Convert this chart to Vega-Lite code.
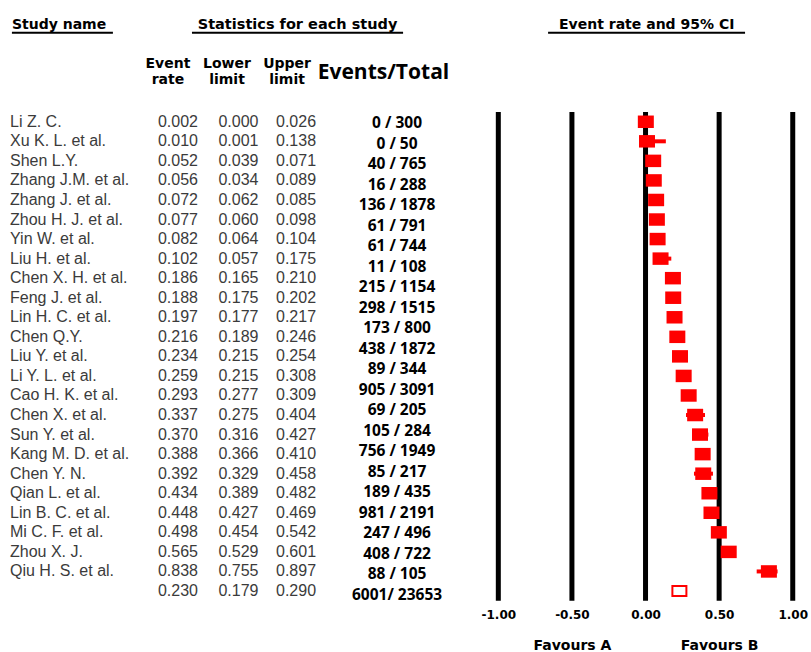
{
  "$schema": "https://vega.github.io/schema/vega-lite/v6.json",
  "width": 811,
  "height": 615,
  "padding": 0,
  "background": "white",
  "config": {"view": {"stroke": null}},
  "datasets": {
    "studies": [
      {"study": "Li Z. C.", "type": "study", "rate": 0.002, "lower": 0.000, "upper": 0.026},
      {"study": "Xu K. L. et al.", "type": "study", "rate": 0.010, "lower": 0.001, "upper": 0.138},
      {"study": "Shen L.Y.", "type": "study", "rate": 0.052, "lower": 0.039, "upper": 0.071},
      {"study": "Zhang J.M. et al.", "type": "study", "rate": 0.056, "lower": 0.034, "upper": 0.089},
      {"study": "Zhang J. et al.", "type": "study", "rate": 0.072, "lower": 0.062, "upper": 0.085},
      {"study": "Zhou H. J. et al.", "type": "study", "rate": 0.077, "lower": 0.060, "upper": 0.098},
      {"study": "Yin W. et al.", "type": "study", "rate": 0.082, "lower": 0.064, "upper": 0.104},
      {"study": "Liu H. et al.", "type": "study", "rate": 0.102, "lower": 0.057, "upper": 0.175},
      {"study": "Chen X. H. et al.", "type": "study", "rate": 0.186, "lower": 0.165, "upper": 0.210},
      {"study": "Feng J. et al.", "type": "study", "rate": 0.188, "lower": 0.175, "upper": 0.202},
      {"study": "Lin H. C. et al.", "type": "study", "rate": 0.197, "lower": 0.177, "upper": 0.217},
      {"study": "Chen Q.Y.", "type": "study", "rate": 0.216, "lower": 0.189, "upper": 0.246},
      {"study": "Liu Y. et al.", "type": "study", "rate": 0.234, "lower": 0.215, "upper": 0.254},
      {"study": "Li Y. L. et al.", "type": "study", "rate": 0.259, "lower": 0.215, "upper": 0.308},
      {"study": "Cao H. K. et al.", "type": "study", "rate": 0.293, "lower": 0.277, "upper": 0.309},
      {"study": "Chen X. et al.", "type": "study", "rate": 0.337, "lower": 0.275, "upper": 0.404},
      {"study": "Sun Y. et al.", "type": "study", "rate": 0.370, "lower": 0.316, "upper": 0.427},
      {"study": "Kang M. D. et al.", "type": "study", "rate": 0.388, "lower": 0.366, "upper": 0.410},
      {"study": "Chen Y. N.", "type": "study", "rate": 0.392, "lower": 0.329, "upper": 0.458},
      {"study": "Qian L. et al.", "type": "study", "rate": 0.434, "lower": 0.389, "upper": 0.482},
      {"study": "Lin B. C. et al.", "type": "study", "rate": 0.448, "lower": 0.427, "upper": 0.469},
      {"study": "Mi C. F. et al.", "type": "study", "rate": 0.498, "lower": 0.454, "upper": 0.542},
      {"study": "Zhou X. J.", "type": "study", "rate": 0.565, "lower": 0.529, "upper": 0.601},
      {"study": "Qiu  H. S. et al.", "type": "study", "rate": 0.838, "lower": 0.755, "upper": 0.897},
      {"study": "Overall", "type": "summary", "rate": 0.230, "lower": 0.179, "upper": 0.290}
    ],
    "ticks": [{"v": -1}, {"v": -0.5}, {"v": 0}, {"v": 0.5}, {"v": 1}],
    "events": [
      {"n": "0 / 300"}, {"n": "0 / 50"}, {"n": "40 / 765"}, {"n": "16 / 288"},
      {"n": "136 / 1878"}, {"n": "61 / 791"}, {"n": "61 / 744"}, {"n": "11 / 108"},
      {"n": "215 / 1154"}, {"n": "298 / 1515"}, {"n": "173 / 800"}, {"n": "438 / 1872"},
      {"n": "89 / 344"}, {"n": "905 / 3091"}, {"n": "69 / 205"}, {"n": "105 / 284"},
      {"n": "756 / 1949"}, {"n": "85 / 217"}, {"n": "189 / 435"}, {"n": "981 / 2191"},
      {"n": "247 / 496"}, {"n": "408 / 722"}, {"n": "88 / 105"}, {"n": "6001/ 23653"}
    ]
  },
  "layer": [
    {
      "layer": [
        {
          "data": {"name": "ticks"},
          "mark": {"type": "rule", "color": "#000000", "strokeWidth": 5},
          "encoding": {
            "x": {
              "field": "v", "type": "quantitative",
              "scale": {"domain": [-4.385, 1.124], "nice": false, "zero": false},
              "axis": {
                "orient": "bottom", "values": [-1, -0.5, 0, 0.5, 1],
                "labelExpr": "(datum.value < 0 ? '-' : '') + format(abs(datum.value), '.2f')",
                "domain": false, "ticks": false, "tickSize": 0, "grid": false, "title": null,
                "labelFont": "DejaVu Sans", "labelFontWeight": "bold", "labelFontSize": 12,
                "labelColor": "#000000", "labelPadding": 0, "offset": -6,
                "labelOverlap": false, "labelFlush": false, "labelBound": false
              }
            },
            "y": {
              "datum": "Li Z. C.", "type": "nominal", "bandPosition": 0,
              "scale": {
                "type": "band", "paddingInner": 0, "paddingOuter": 0.728,
                "domain": ["t5", "t4", "t3", "t2", "t1",
                  "Li Z. C.", "Xu K. L. et al.", "Shen L.Y.", "Zhang J.M. et al.", "Zhang J. et al.",
                  "Zhou H. J. et al.", "Yin W. et al.", "Liu H. et al.", "Chen X. H. et al.", "Feng J. et al.",
                  "Lin H. C. et al.", "Chen Q.Y.", "Liu Y. et al.", "Li Y. L. et al.", "Cao H. K. et al.",
                  "Chen X. et al.", "Sun Y. et al.", "Kang M. D. et al.", "Chen Y. N.", "Qian L. et al.",
                  "Lin B. C. et al.", "Mi C. F. et al.", "Zhou X. J.", "Qiu  H. S. et al.", "Overall"]
              },
              "axis": null
            },
            "y2": {"datum": "Overall", "bandPosition": 1}
          }
        },
        {
          "data": {"name": "studies"},
          "transform": [{"filter": "datum.type == 'study'"}],
          "mark": {"type": "rule", "color": "#ff0000", "strokeWidth": 4},
          "encoding": {
            "x": {"field": "lower", "type": "quantitative", "axis": null},
            "x2": {"field": "upper"},
            "y": {"field": "study", "type": "nominal", "axis": null}
          }
        },
        {
          "data": {"name": "studies"},
          "transform": [{"filter": "datum.type == 'study'"}],
          "mark": {"type": "point", "shape": "M-1,-0.78H1V0.78H-1Z", "size": 256, "filled": true, "color": "#ff0000", "opacity": 1},
          "encoding": {
            "x": {"field": "rate", "type": "quantitative", "axis": null},
            "y": {"field": "study", "type": "nominal", "axis": null}
          }
        },
        {
          "data": {"name": "studies"},
          "transform": [{"filter": "datum.type == 'summary'"}],
          "mark": {"type": "point", "shape": "M-1,-0.7H1V0.7H-1Z", "size": 196, "filled": false, "fill": "#ffffff", "stroke": "#ff0000", "strokeWidth": 2, "opacity": 1},
          "encoding": {
            "x": {
              "field": "rate", "type": "quantitative",
              "axis": {
                "orient": "bottom", "values": [-0.5, 0.5],
                "labelExpr": "datum.value < 0 ? 'Favours A' : 'Favours B'",
                "domain": false, "ticks": false, "tickSize": 0, "grid": false, "title": null,
                "labelFont": "DejaVu Sans", "labelFontWeight": "bold", "labelFontSize": 14,
                "labelColor": "#000000", "labelPadding": 0, "offset": 23,
                "labelOverlap": false, "labelFlush": false, "labelBound": false
              }
            },
            "y": {"field": "study", "type": "nominal", "axis": null}
          }
        },
        {
          "data": {"name": "studies"},
          "transform": [{"filter": "datum.type == 'study'"}],
          "mark": {"type": "text", "align": "left", "baseline": "middle", "font": "Liberation Sans", "fontSize": 16, "color": "#3b3b3b"},
          "encoding": {
            "x": {"datum": -4.317, "type": "quantitative", "axis": null},
            "y": {"field": "study", "type": "nominal", "axis": null},
            "text": {"field": "study"}
          }
        },
        {
          "data": {"name": "studies"},
          "mark": {"type": "text", "align": "center", "baseline": "middle", "font": "Liberation Sans", "fontSize": 16, "color": "#3b3b3b"},
          "encoding": {
            "x": {"datum": -3.176, "type": "quantitative", "axis": null},
            "y": {"field": "study", "type": "nominal", "axis": null},
            "text": {"field": "rate", "format": ".3f"}
          }
        },
        {
          "data": {"name": "studies"},
          "mark": {"type": "text", "align": "center", "baseline": "middle", "font": "Liberation Sans", "fontSize": 16, "color": "#3b3b3b"},
          "encoding": {
            "x": {"datum": -2.765, "type": "quantitative", "axis": null},
            "y": {"field": "study", "type": "nominal", "axis": null},
            "text": {"field": "lower", "format": ".3f"}
          }
        },
        {
          "data": {"name": "studies"},
          "mark": {"type": "text", "align": "center", "baseline": "middle", "font": "Liberation Sans", "fontSize": 16, "color": "#3b3b3b"},
          "encoding": {
            "x": {"datum": -2.374, "type": "quantitative", "axis": null},
            "y": {"field": "study", "type": "nominal", "axis": null},
            "text": {"field": "upper", "format": ".3f"}
          }
        },
        {
          "data": {"values": [{"label": "Study name"}]},
          "mark": {"type": "text", "align": "left", "baseline": "middle", "font": "DejaVu Sans", "fontWeight": "bold", "fontSize": 14, "color": "#000000", "dy": 1},
          "encoding": {
            "x": {"datum": -4.304, "type": "quantitative", "axis": null},
            "y": {"datum": "t5", "type": "nominal", "axis": null},
            "text": {"field": "label"}
          }
        },
        {
          "data": {"values": [{"label": "Statistics for each study"}]},
          "mark": {"type": "text", "align": "center", "baseline": "middle", "font": "DejaVu Sans", "fontWeight": "bold", "fontSize": 14.5, "color": "#000000", "dy": 1},
          "encoding": {
            "x": {"datum": -2.364, "type": "quantitative", "axis": null},
            "y": {"datum": "t5", "type": "nominal", "axis": null},
            "text": {"field": "label"}
          }
        },
        {
          "data": {"values": [{"label": "Event rate and 95% CI"}]},
          "mark": {"type": "text", "align": "center", "baseline": "middle", "font": "DejaVu Sans", "fontWeight": "bold", "fontSize": 14, "color": "#000000", "dy": 1},
          "encoding": {
            "x": {"datum": 0.008, "type": "quantitative", "axis": null},
            "y": {"datum": "t5", "type": "nominal", "axis": null},
            "text": {"field": "label"}
          }
        },
        {
          "data": {"values": [{"from": -4.304, "to": -3.618}, {"from": -3.081, "to": -1.647}, {"from": -0.662, "to": 0.676}]},
          "mark": {"type": "rule", "color": "#000000", "strokeWidth": 2},
          "encoding": {
            "x": {"field": "from", "type": "quantitative", "axis": null},
            "x2": {"field": "to"},
            "y": {"datum": "t5", "type": "nominal", "bandPosition": 0.95, "axis": null}
          }
        },
        {
          "data": {"values": [{"label": "Event\nrate"}]},
          "mark": {"type": "text", "align": "center", "baseline": "middle", "lineBreak": "\n", "lineHeight": 16, "font": "DejaVu Sans", "fontWeight": "bold", "fontSize": 14, "color": "#000000", "dy": 1},
          "encoding": {
            "x": {"datum": -3.244, "type": "quantitative", "axis": null},
            "y": {"datum": "t3", "type": "nominal", "axis": null},
            "text": {"field": "label"}
          }
        },
        {
          "data": {"values": [{"label": "Lower\nlimit"}]},
          "mark": {"type": "text", "align": "center", "baseline": "middle", "lineBreak": "\n", "lineHeight": 16, "font": "DejaVu Sans", "fontWeight": "bold", "fontSize": 14, "color": "#000000", "dy": 1},
          "encoding": {
            "x": {"datum": -2.843, "type": "quantitative", "axis": null},
            "y": {"datum": "t3", "type": "nominal", "axis": null},
            "text": {"field": "label"}
          }
        },
        {
          "data": {"values": [{"label": "Upper\nlimit"}]},
          "mark": {"type": "text", "align": "center", "baseline": "middle", "lineBreak": "\n", "lineHeight": 16, "font": "DejaVu Sans", "fontWeight": "bold", "fontSize": 14, "color": "#000000", "dy": 1},
          "encoding": {
            "x": {"datum": -2.435, "type": "quantitative", "axis": null},
            "y": {"datum": "t3", "type": "nominal", "axis": null},
            "text": {"field": "label"}
          }
        },
        {
          "data": {"values": [{"label": "Events/Total"}]},
          "mark": {"type": "text", "align": "center", "baseline": "middle", "font": "Open Sans", "fontWeight": "bold", "fontSize": 21, "color": "#000000"},
          "encoding": {
            "x": {"datum": -1.78, "type": "quantitative", "axis": null},
            "y": {"datum": "t2", "type": "nominal", "bandPosition": 0, "axis": null},
            "text": {"field": "label"}
          }
        }
      ],
      "resolve": {"axis": {"x": "independent"}}
    },
    {
      "data": {"name": "events"},
      "mark": {"type": "text", "align": "center", "baseline": "middle", "font": "Open Sans", "fontWeight": "bold", "fontSize": 15.5, "color": "#000000"},
      "encoding": {
        "x": {"datum": -1.688, "type": "quantitative", "axis": null},
        "y": {
          "field": "n", "type": "nominal", "axis": null,
          "scale": {
            "type": "point", "padding": 1.06,
            "domain": ["e1", "e2", "e3", "e4", "e5",
              "0 / 300", "0 / 50", "40 / 765", "16 / 288",
              "136 / 1878", "61 / 791", "61 / 744", "11 / 108",
              "215 / 1154", "298 / 1515", "173 / 800", "438 / 1872",
              "89 / 344", "905 / 3091", "69 / 205", "105 / 284",
              "756 / 1949", "85 / 217", "189 / 435", "981 / 2191",
              "247 / 496", "408 / 722", "88 / 105", "6001/ 23653"]
          }
        },
        "text": {"field": "n"}
      }
    }
  ],
  "resolve": {"scale": {"y": "independent"}}
}
